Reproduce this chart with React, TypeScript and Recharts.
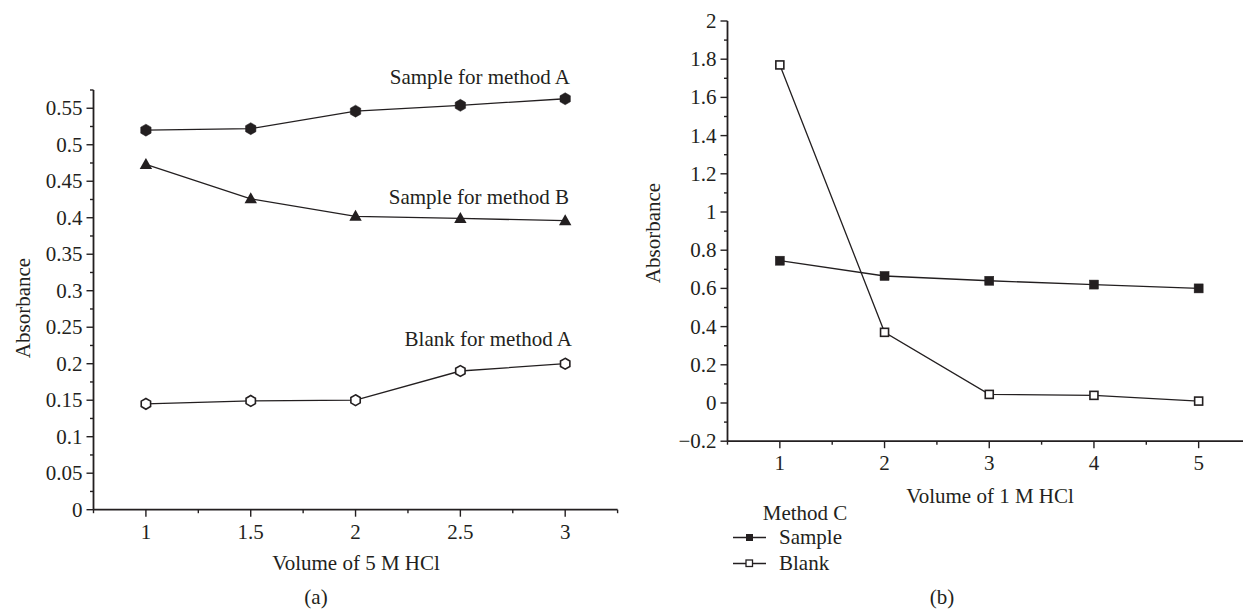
import React from 'react';
import { LineChart, Line, XAxis, YAxis } from 'recharts';

// panel (a): volume of 5 M HCl
const volume5M = [1, 1.5, 2, 2.5, 3];
const sampleMethodA = [0.52, 0.522, 0.546, 0.554, 0.563];
const sampleMethodB = [0.473, 0.426, 0.402, 0.399, 0.396];
const blankMethodA = [0.145, 0.149, 0.15, 0.19, 0.2];

// panel (b): volume of 1 M HCl
const volume1M = [1, 2, 3, 4, 5];
const sampleMethodC = [0.745, 0.665, 0.64, 0.62, 0.6];
const blankMethodC = [1.77, 0.37, 0.045, 0.04, 0.01];

// ticks (all positions) and the labelled ones
const leftXTicks = [0.75, 1, 1.25, 1.5, 1.75, 2, 2.25, 2.5, 2.75, 3, 3.25];
const leftXLabels = ['1', '1.5', '2', '2.5', '3'];
const leftYTicks = [0, 0.025, 0.05, 0.075, 0.1, 0.125, 0.15, 0.175, 0.2, 0.225, 0.25, 0.275, 0.3, 0.325, 0.35, 0.375, 0.4, 0.425, 0.45, 0.475, 0.5, 0.525, 0.55, 0.575];
const leftYLabels = ['0', '0.05', '0.1', '0.15', '0.2', '0.25', '0.3', '0.35', '0.4', '0.45', '0.5', '0.55'];

const rightXTicks = [0.5, 1, 1.5, 2, 2.5, 3, 3.5, 4, 4.5, 5, 5.5];
const rightXLabels = ['1', '2', '3', '4', '5'];
const rightYTicks = [-0.2, -0.1, 0, 0.1, 0.2, 0.3, 0.4, 0.5, 0.6, 0.7, 0.8, 0.9, 1, 1.1, 1.2, 1.3, 1.4, 1.5, 1.6, 1.7, 1.8, 1.9, 2];
const rightYLabels = ['\u22120.2', '0', '0.2', '0.4', '0.6', '0.8', '1', '1.2', '1.4', '1.6', '1.8', '2'];

const leftData = volume5M.map((x, i) => ({ x, sampleA: sampleMethodA[i], sampleB: sampleMethodB[i], blankA: blankMethodA[i] }));
const rightData = volume1M.map((x, i) => ({ x, sample: sampleMethodC[i], blank: blankMethodC[i] }));

const FONT = '"Liberation Serif", "Times New Roman", serif';
const INK = '#231f20';
const FS = 21;

const labelFor = (labels: string[], value: number) =>
  labels.find((l) => Math.abs(parseFloat(l.replace('\u2212', '-')) - value) < 1e-6);

const makeXTick = (labels: string[]) => (props: any) => {
  const { x, y, payload } = props;
  const label = labelFor(labels, payload.value);
  return (
    <g>
      <line x1={x} x2={x} y1={y} y2={y + (label ? 7 : 3.5)} stroke={INK} strokeWidth={1.4} />
      {label && (
        <text x={x} y={y + 29} textAnchor="middle" fontSize={FS} fontFamily={FONT} fill={INK}>
          {label}
        </text>
      )}
    </g>
  );
};

const makeYTick = (labels: string[]) => (props: any) => {
  const { x, y, payload } = props;
  const label = labelFor(labels, payload.value);
  return (
    <g>
      <line x1={x - (label ? 7 : 3.5)} x2={x} y1={y} y2={y} stroke={INK} strokeWidth={1.4} />
      {label && (
        <text x={x - 11} y={y + 7} textAnchor="end" fontSize={FS} fontFamily={FONT} fill={INK}>
          {label}
        </text>
      )}
    </g>
  );
};

const hexPoints = (cx: number, cy: number, r: number) =>
  [0, 1, 2, 3, 4, 5]
    .map((k) => {
      const a = (Math.PI / 3) * k - Math.PI / 2;
      return `${cx + r * Math.cos(a)},${cy + r * Math.sin(a)}`;
    })
    .join(' ');

const HexDot = (filled: boolean) => (p: any) => (
  <polygon
    key={`hex-${filled}-${p.index}`}
    points={hexPoints(p.cx, p.cy, filled ? 6 : 5.4)}
    fill={filled ? INK : '#fff'}
    stroke={INK}
    strokeWidth={filled ? 0.5 : 1.6}
  />
);

const TriDot = (p: any) => (
  <polygon
    key={`tri-${p.index}`}
    points={`${p.cx},${p.cy - 6.5} ${p.cx - 6.2},${p.cy + 4.5} ${p.cx + 6.2},${p.cy + 4.5}`}
    fill={INK}
  />
);

const SquareDot = (filled: boolean) => (p: any) => {
  const s = filled ? 9 : 8;
  return (
    <rect
      key={`sq-${filled}-${p.index}`}
      x={p.cx - s / 2}
      y={p.cy - s / 2}
      width={s}
      height={s}
      fill={filled ? INK : '#fff'}
      stroke={INK}
      strokeWidth={filled ? 0.5 : 1.6}
    />
  );
};

const txt = { fontFamily: FONT, fontSize: FS, fill: INK } as const;

export default function App() {
  return (
    <div style={{ position: 'absolute', left: 0, top: 0, width: 1243, height: 613, overflow: 'hidden', background: '#fff' }}>
      <div style={{ position: 'absolute', left: 0, top: 0 }}>
        <LineChart width={620} height={613} data={leftData} margin={{ top: 90, right: 2.4, bottom: 102.3, left: 92.5 }}>
          <XAxis
            dataKey="x"
            type="number"
            domain={[0.75, 3.25]}
            ticks={leftXTicks}
            interval={0}
            height={1}
            tickSize={0}
            tickMargin={0}
            tickLine={false}
            axisLine={{ stroke: INK, strokeWidth: 1.8 }}
            tick={makeXTick(leftXLabels)}
          />
          <YAxis
            type="number"
            domain={[0, 0.575]}
            ticks={leftYTicks}
            interval={0}
            width={1}
            tickSize={0}
            tickMargin={0}
            tickLine={false}
            axisLine={{ stroke: INK, strokeWidth: 1.8 }}
            tick={makeYTick(leftYLabels)}
          />
          <Line dataKey="sampleA" stroke={INK} strokeWidth={1.3} dot={HexDot(true)} isAnimationActive={false} />
          <Line dataKey="sampleB" stroke={INK} strokeWidth={1.3} dot={TriDot} isAnimationActive={false} />
          <Line dataKey="blankA" stroke={INK} strokeWidth={1.3} dot={HexDot(false)} isAnimationActive={false} />
        </LineChart>
      </div>
      <div style={{ position: 'absolute', left: 620, top: 0 }}>
        <LineChart width={640} height={613} data={rightData} margin={{ top: 21, right: 9, bottom: 170.8, left: 106.5 }}>
          <XAxis
            dataKey="x"
            type="number"
            domain={[0.5, 5.5]}
            ticks={rightXTicks}
            interval={0}
            height={1}
            tickSize={0}
            tickMargin={0}
            tickLine={false}
            axisLine={{ stroke: INK, strokeWidth: 1.8 }}
            tick={makeXTick(rightXLabels)}
          />
          <YAxis
            type="number"
            domain={[-0.2, 2]}
            ticks={rightYTicks}
            interval={0}
            width={1}
            tickSize={0}
            tickMargin={0}
            tickLine={false}
            axisLine={{ stroke: INK, strokeWidth: 1.8 }}
            tick={makeYTick(rightYLabels)}
          />
          <Line dataKey="blank" stroke={INK} strokeWidth={1.3} dot={SquareDot(false)} isAnimationActive={false} />
          <Line dataKey="sample" stroke={INK} strokeWidth={1.3} dot={SquareDot(true)} isAnimationActive={false} />
        </LineChart>
      </div>
      <svg width={1243} height={613} style={{ position: 'absolute', left: 0, top: 0, pointerEvents: 'none' }}>
        <text {...txt} x={570} y={84} textAnchor="end">Sample for method A</text>
        <text {...txt} x={569} y={204} textAnchor="end">Sample for method B</text>
        <text {...txt} x={572} y={346} textAnchor="end">Blank for method A</text>
        <text {...txt} x={30} y={308} textAnchor="middle" transform="rotate(-90 30 308)">Absorbance</text>
        <text {...txt} x={356} y={570} textAnchor="middle">Volume of 5 M HCl</text>
        <text {...txt} x={316} y={604} textAnchor="middle">(a)</text>

        <text {...txt} x={660} y={233} textAnchor="middle" transform="rotate(-90 660 233)">Absorbance</text>
        <text {...txt} x={990} y={503} textAnchor="middle">Volume of 1 M HCl</text>
        <text {...txt} x={805} y={520} textAnchor="middle">Method C</text>
        <line x1={733} x2={766} y1={537.5} y2={537.5} stroke={INK} strokeWidth={1.3} />
        <rect x={746} y={534} width={7} height={7} fill={INK} />
        <text {...txt} x={779} y={544}>Sample</text>
        <line x1={733} x2={766} y1={563.5} y2={563.5} stroke={INK} strokeWidth={1.3} />
        <rect x={746} y={560} width={6.5} height={6.5} fill="#fff" stroke={INK} strokeWidth={1.3} />
        <text {...txt} x={779} y={569.5}>Blank</text>
        <text {...txt} x={942} y={604} textAnchor="middle">(b)</text>
      </svg>
    </div>
  );
}
